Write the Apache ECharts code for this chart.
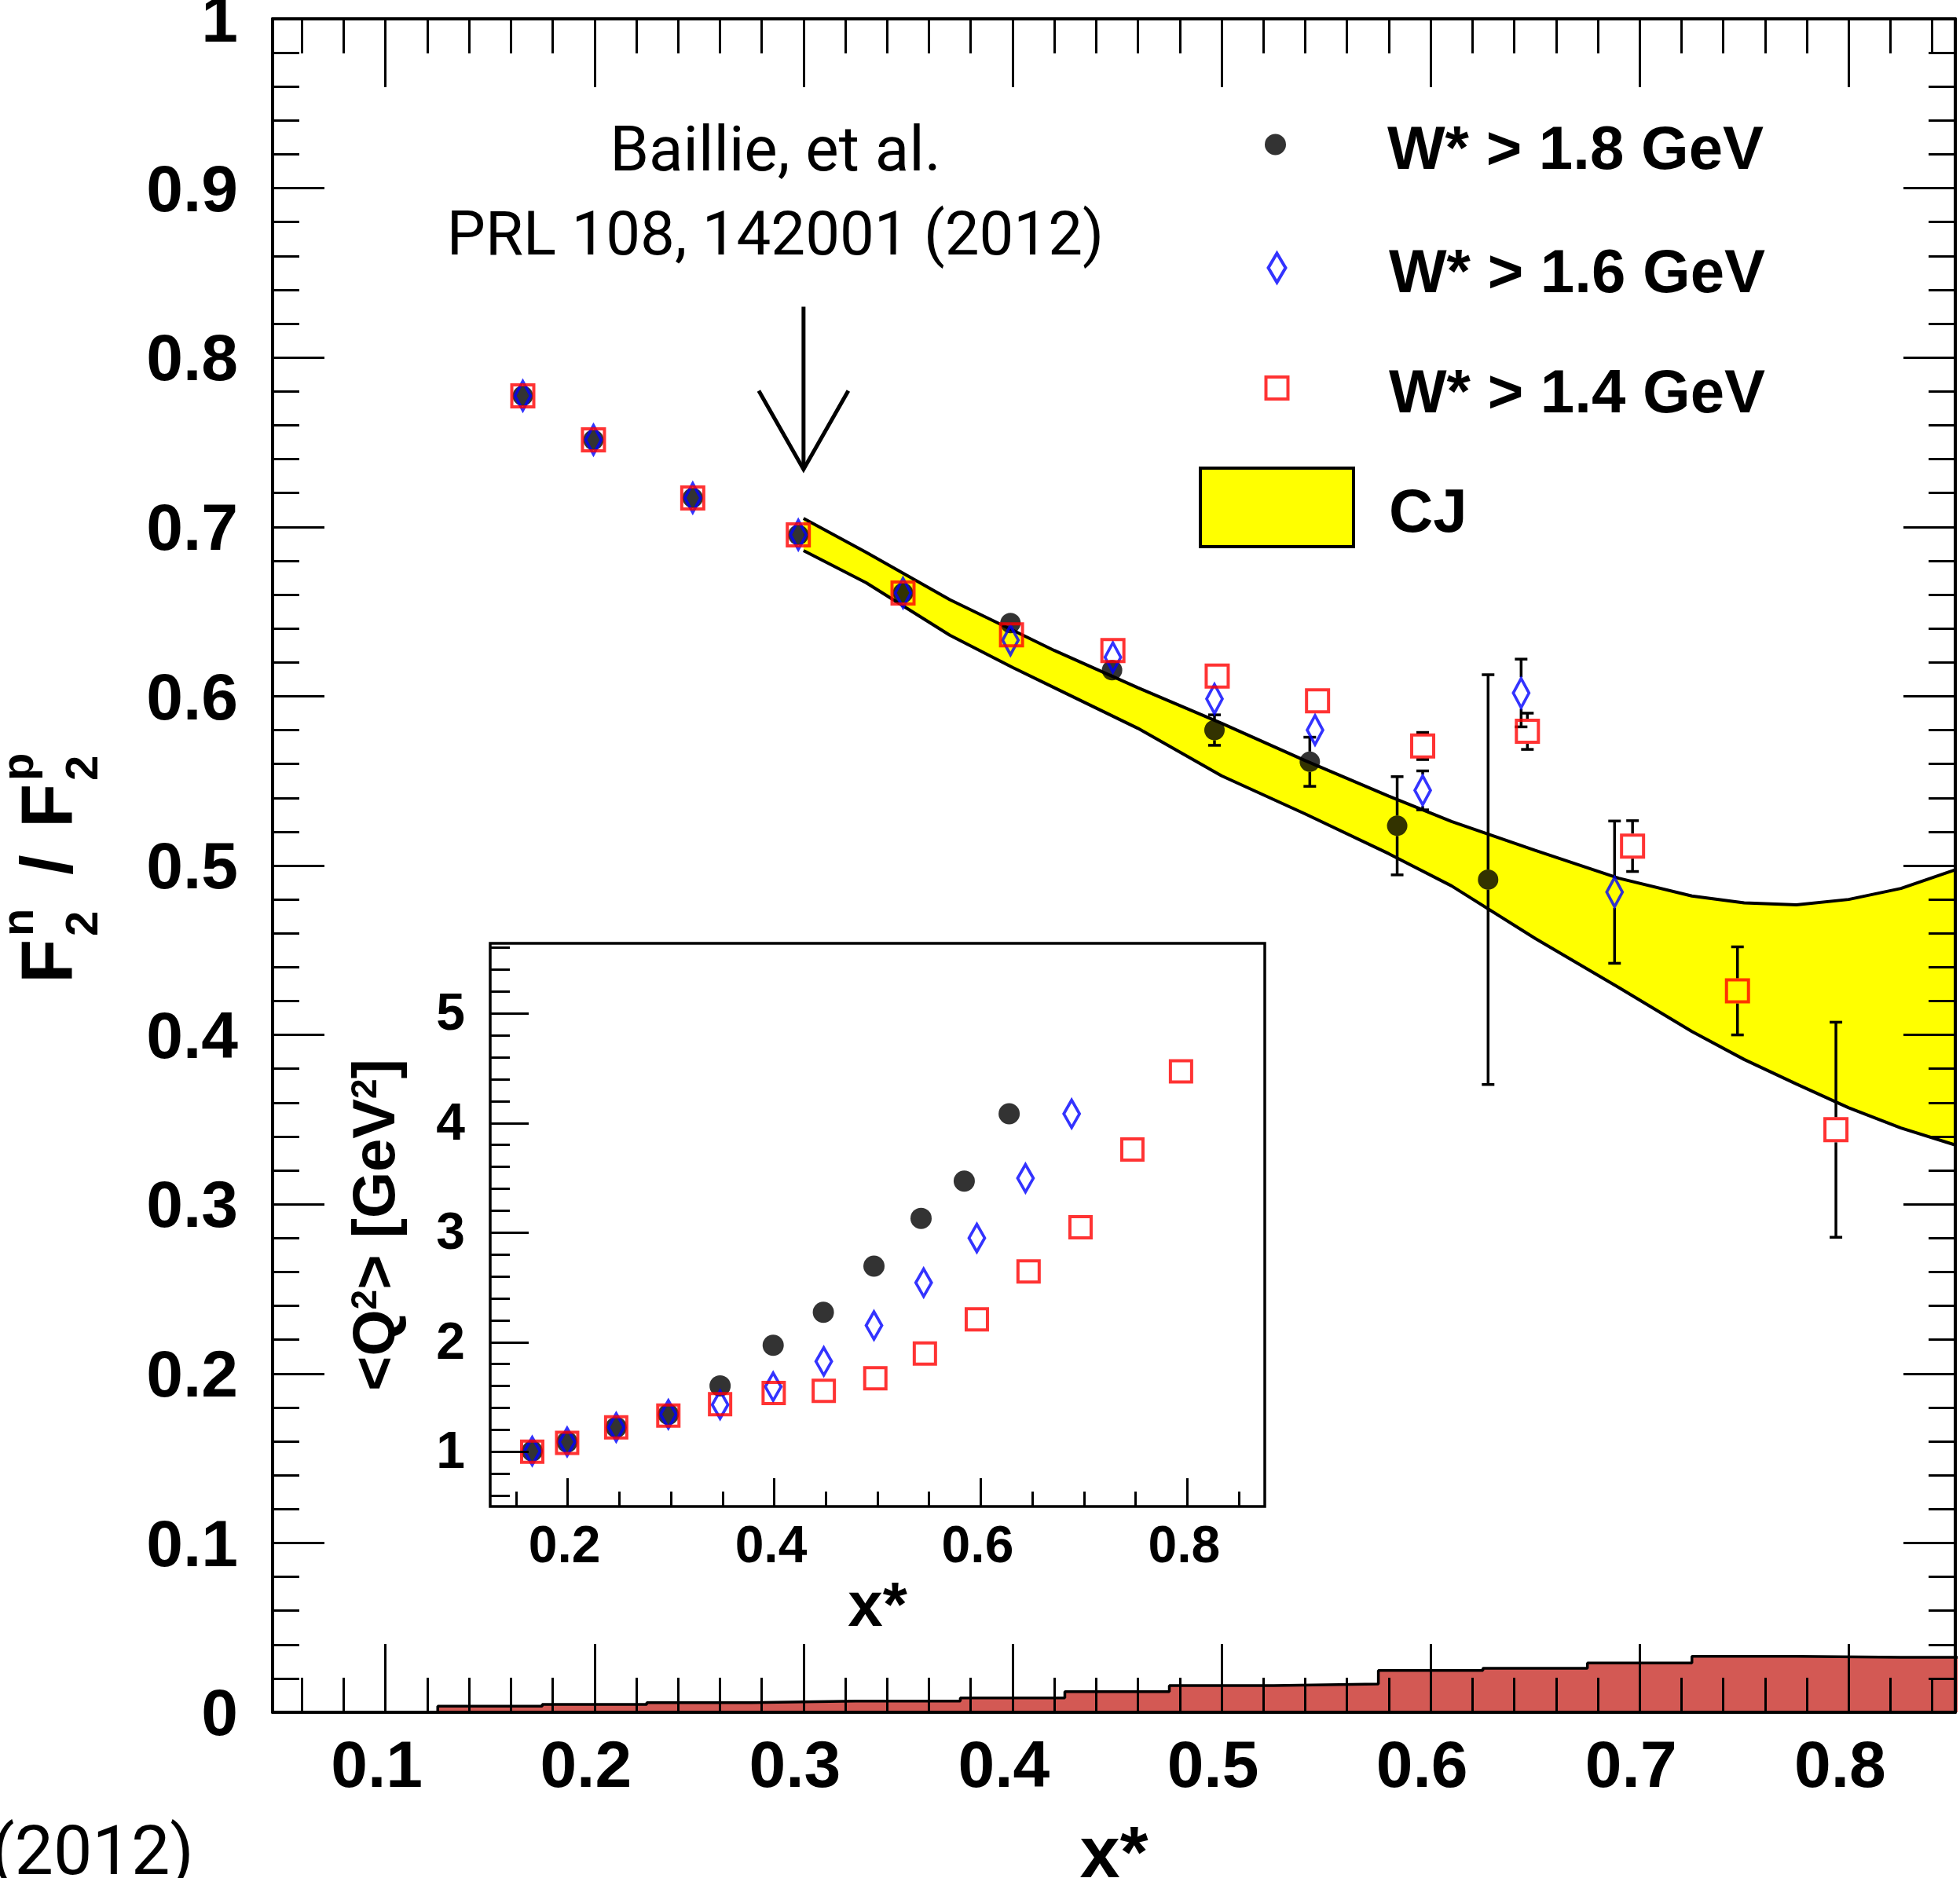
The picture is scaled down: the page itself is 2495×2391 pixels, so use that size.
<!DOCTYPE html>
<html><head><meta charset="utf-8">
<script src="https://cdn.jsdelivr.net/npm/echarts@6/dist/echarts.min.js"></script>
<style>html,body{margin:0;padding:0;background:#fff}#c{width:2495px;height:2391px}</style>
</head><body><div id="c"></div>
<script>
// ---------------- data ----------------
// W* > 1.8 GeV (black dots)
const xBlack     = [0.1657,0.1995,0.247,0.2975,0.3476,0.399,0.4476,0.4966,0.5422,0.584,0.6275];
const ratioBlack = [0.7774,0.7514,0.7171,0.6953,0.661,0.6432,0.6154,0.580,0.5613,0.5235,0.4917];
const errBlack   = [0,0,0,0,0,0,0,0.009,0.0145,0.029,0.121];
const q2Black    = [1.005,1.089,1.223,1.341,1.601,1.971,2.273,2.694,3.130,3.470,4.084];
// W* > 1.6 GeV (blue diamonds)
const xBlue      = [0.1657,0.1995,0.247,0.2975,0.3476,0.399,0.448,0.4966,0.5447,0.5962,0.6433,0.688];
const ratioBlue  = [0.7774,0.7514,0.7171,0.6953,0.661,0.6331,0.623,0.5984,0.580,0.5444,0.6019,0.4843];
const errBlue    = [0,0,0,0,0,0,0,0,0.0086,0.0115,0.02,0.042];
const q2Blue     = [1.005,1.089,1.223,1.341,1.429,1.593,1.824,2.152,2.543,2.950,3.496,4.084];
// W* > 1.4 GeV (red squares)
const xRed       = [0.1657,0.1995,0.247,0.2975,0.3476,0.3995,0.448,0.4979,0.5459,0.5962,0.6463,0.6966,0.7468,0.7939];
const ratioRed   = [0.7774,0.7514,0.7171,0.6953,0.661,0.6362,0.627,0.6119,0.5973,0.5706,0.5793,0.5115,0.426,0.344];
const errRed     = [0,0,0,0,0,0,0,0,0,0.008,0.0107,0.015,0.026,0.0635];
const q2Red      = [1.0,1.08,1.223,1.33,1.434,1.535,1.556,1.670,1.897,2.208,2.645,3.048,3.758,4.472];
// CJ band
const cjX    = [0.300,0.330,0.370,0.400,0.420,0.460,0.500,0.540,0.580,0.610,0.650,0.690,0.725,0.750,0.775,0.800,0.825,0.851];
const cjHigh = [0.705,0.685,0.657,0.639,0.627,0.605,0.584,0.562,0.541,0.526,0.509,0.4925,0.482,0.478,0.4768,0.480,0.4865,0.4975];
const cjLow  = [0.686,0.667,0.636,0.617,0.605,0.581,0.553,0.5305,0.507,0.488,0.457,0.428,0.402,0.3855,0.371,0.357,0.345,0.335];
// systematic uncertainty histogram
const sysEdges = [0.125,0.175,0.225,0.275,0.325,0.375,0.425,0.475,0.525,0.575,0.625,0.675,0.725,0.775,0.825,0.875];
const sysErr   = [0.0036,0.0046,0.0057,0.0066,0.0066,0.0085,0.0122,0.0158,0.0167,0.0247,0.026,0.0291,0.033,0.0325,0.0325];
// arrow annotation (x, top, tip)
const arrowPos = [0.3, 0.83, 0.734];
// ticks
const mainXMajor = [0.1,0.2,0.3,0.4,0.5,0.6,0.7,0.8];
const mainXMinor = [0.06,0.08,0.12,0.14,0.16,0.18,0.22,0.24,0.26,0.28,0.32,0.34,0.36,0.38,0.42,0.44,0.46,0.48,0.52,0.54,0.56,0.58,0.62,0.64,0.66,0.68,0.72,0.74,0.76,0.78,0.82,0.84];
const insetXMajor = [0.2,0.4,0.6,0.8];
const insetXMinor = [0.15,0.25,0.3,0.35,0.45,0.5,0.55,0.65,0.7,0.75,0.85];
const insetYMajor = [1,2,3,4,5];
const insetYMinor = [0.6,0.8,1.2,1.4,1.6,1.8,2.2,2.4,2.6,2.8,3.2,3.4,3.6,3.8,4.2,4.4,4.6,4.8,5.2,5.4,5.6];

// ---------------- chart ----------------
const FONT = "'Liberation Sans', Arial, Helvetica, sans-serif";
const AFONT = "Roboto, 'Open Sans', sans-serif";
const chart = echarts.init(document.getElementById('c'), null, {renderer:'canvas'});
const tickStyle = {color:'#000', width:3};
const noLine = {show:false, onZero:false};
const frameLine = {show:true, onZero:false, lineStyle:{color:'#000', width:4}};

function xa(grid, pos, min, max, vals, len, extra) {
  return Object.assign({type:'value', gridIndex:grid, position:pos, min:min, max:max, z:10,
    splitLine:{show:false}, axisLine:noLine,
    axisTick:{show:true, inside:true, length:len, lineStyle:tickStyle, customValues:vals},
    axisLabel:{show:false}}, extra || {});
}
const MX0 = 0.046, MX1 = 0.851;
const IX0 = 0.125, IX1 = 0.875, IY0 = 0.5, IY1 = 5.64;

const lblMain = {show:true, fontSize:84, fontWeight:'bold', fontFamily:FONT, color:'#000'};
const lblInset = {show:true, fontSize:66, fontWeight:'bold', fontFamily:FONT, color:'#000'};

const xAxes = [
  xa(0,'bottom',MX0,MX1,mainXMajor,87,{axisLine:frameLine,
     axisLabel:Object.assign({customValues:mainXMajor, margin:30, padding:[0,22,0,0]}, lblMain),
     name:'x*', nameLocation:'middle', nameGap:139,
     nameTextStyle:{fontSize:92, fontWeight:'bold', fontFamily:FONT, color:'#000'}}),
  xa(0,'bottom',MX0,MX1,mainXMinor,44),
  xa(0,'top',MX0,MX1,mainXMajor,87,{axisLine:frameLine}),
  xa(0,'top',MX0,MX1,mainXMinor,44),
  xa(1,'bottom',IX0,IX1,insetXMajor,36,{
     axisLabel:Object.assign({customValues:insetXMajor, margin:20, padding:[0,8,0,0]}, lblInset),
     name:'x*', nameLocation:'middle', nameGap:90,
     nameTextStyle:{fontSize:80, fontWeight:'bold', fontFamily:FONT, color:'#000'}}),
  xa(1,'bottom',IX0,IX1,insetXMinor,19)
];
const yAxes = [
  {type:'value', gridIndex:0, position:'left', min:0, max:1, interval:0.1, z:10,
   splitLine:{show:false}, axisLine:frameLine,
   axisTick:{show:true, inside:true, length:66, lineStyle:tickStyle},
   minorTick:{show:true, splitNumber:5, length:34, lineStyle:tickStyle},
   axisLabel:Object.assign({margin:44, verticalAlign:'top', lineHeight:12}, lblMain)},
  {type:'value', gridIndex:0, position:'right', min:0, max:1, interval:0.1, z:10,
   splitLine:{show:false}, axisLine:frameLine,
   axisTick:{show:true, inside:true, length:66, lineStyle:tickStyle},
   minorTick:{show:true, splitNumber:5, length:34, lineStyle:tickStyle},
   axisLabel:{show:false}},
  {type:'value', gridIndex:1, position:'left', min:IY0, max:IY1, z:10,
   splitLine:{show:false}, axisLine:noLine,
   axisTick:{show:true, inside:true, length:49, lineStyle:tickStyle, customValues:insetYMajor},
   axisLabel:Object.assign({customValues:insetYMajor, margin:32, verticalAlign:'top', lineHeight:6}, lblInset),
   name:'<Q{s|2}> [GeV{s|2}]', nameLocation:'middle', nameGap:105,
   nameTextStyle:{fontSize:76, fontWeight:'bold', fontFamily:FONT, color:'#000',
     rich:{s:{fontSize:46, fontWeight:'bold', fontFamily:FONT, color:'#000', verticalAlign:'top'}}}},
  {type:'value', gridIndex:1, position:'left', min:IY0, max:IY1, z:10,
   splitLine:{show:false}, axisLine:noLine,
   axisTick:{show:true, inside:true, length:25, lineStyle:tickStyle, customValues:insetYMinor},
   axisLabel:{show:false}}
];

const NAMES = ['W* > 1.8 GeV','W* > 1.6 GeV','W* > 1.4 GeV','CJ'];
const blackStyle = {color:'#000000'};
const blueStyle = {color:'rgba(0,0,0,0)', borderColor:'#0000ff', borderWidth:4};
const redStyle = {color:'rgba(0,0,0,0)', borderColor:'#ff0000', borderWidth:4};

function zip(a,b){ return a.map((v,i)=>[v,b[i]]); }
function zip3(a,b,c){ const out=[]; a.forEach((v,i)=>{ if(c[i]>0) out.push([v,b[i],c[i]]); }); return out; }

function errSeries(name, xs, ys, es, gap, z) {
  return {type:'custom', name:name, xAxisIndex:0, yAxisIndex:0, z:z, silent:true, clip:true,
    encode:{x:0, y:1}, data: zip3(xs, ys, es),
    renderItem:function(params, api){
      const x = api.value(0), y = api.value(1), e = api.value(2);
      const c = api.coord([x,y]), t = api.coord([x,y+e]), b = api.coord([x,y-e]);
      const st = {stroke:'#000', lineWidth:3.5};
      const ch = [];
      if (c[1]-t[1] > gap) {
        ch.push({type:'line', shape:{x1:c[0],y1:c[1]-gap,x2:c[0],y2:t[1]}, style:st});
        ch.push({type:'line', shape:{x1:c[0]-8,y1:t[1],x2:c[0]+8,y2:t[1]}, style:st});
      }
      if (b[1]-c[1] > gap) {
        ch.push({type:'line', shape:{x1:c[0],y1:c[1]+gap,x2:c[0],y2:b[1]}, style:st});
        ch.push({type:'line', shape:{x1:c[0]-8,y1:b[1],x2:c[0]+8,y2:b[1]}, style:st});
      }
      return {type:'group', children:ch};
    }};
}

// histogram step data built from bin edges and heights
const sysData = [[sysEdges[0],0]];
sysErr.forEach((h,i)=>sysData.push([sysEdges[i],h]));
sysData.push([sysEdges[sysEdges.length-1], sysErr[sysErr.length-1]]);

const series = [
  {type:'line', name:'sys', xAxisIndex:0, yAxisIndex:0, step:'end', symbol:'none', silent:true,
   data:sysData, lineStyle:{color:'#000', width:3.5}, areaStyle:{color:'#d35954', opacity:1}, z:1},
  {type:'custom', name:'CJ', xAxisIndex:0, yAxisIndex:0, z:2, silent:true, clip:true,
   itemStyle:{color:'#ffff00'}, encode:{x:0, y:[1,2]},
   data: cjX.map((x,i)=>[x,cjLow[i],cjHigh[i]]),
   renderItem:function(params, api){
     if (params.dataIndex !== 0) return null;
     const pts = [];
     for (let i=0;i<cjX.length;i++) pts.push(api.coord([cjX[i], cjHigh[i]]));
     for (let i=cjX.length-1;i>=0;i--) pts.push(api.coord([cjX[i], cjLow[i]]));
     return {type:'polygon', shape:{points:pts}, style:{fill:'#ffff00', stroke:null}};
   }},
  {type:'line', name:'cj-high', xAxisIndex:0, yAxisIndex:0, symbol:'none', silent:true, z:3,
   data:zip(cjX,cjHigh), lineStyle:{color:'#000', width:4}},
  {type:'line', name:'cj-low', xAxisIndex:0, yAxisIndex:0, symbol:'none', silent:true, z:3,
   data:zip(cjX,cjLow), lineStyle:{color:'#000', width:4}},
  errSeries('err18', xBlack, ratioBlack, errBlack, 13, 4),
  errSeries('err16', xBlue, ratioBlue, errBlue, 20, 4),
  errSeries('err14', xRed, ratioRed, errRed, 16, 4),
  {type:'scatter', name:NAMES[0], xAxisIndex:0, yAxisIndex:0, symbol:'circle', symbolSize:26,
   itemStyle:blackStyle, data:zip(xBlack,ratioBlack), z:5, silent:true},
  {type:'scatter', name:NAMES[1], xAxisIndex:0, yAxisIndex:0, symbol:'diamond', symbolSize:[20,37],
   itemStyle:blueStyle, data:zip(xBlue,ratioBlue), z:6, silent:true},
  {type:'scatter', name:NAMES[2], xAxisIndex:0, yAxisIndex:0, symbol:'rect', symbolSize:28,
   itemStyle:redStyle, data:zip(xRed,ratioRed), z:7, silent:true},
  {type:'custom', name:'arrow', xAxisIndex:0, yAxisIndex:0, z:8, silent:true, encode:{x:0,y:[1,2]},
   data:[arrowPos],
   renderItem:function(params, api){
     const top = api.coord([api.value(0), api.value(1)]);
     const tip = api.coord([api.value(0), api.value(2)]);
     const st = {stroke:'#000', lineWidth:5};
     return {type:'group', children:[
       {type:'line', shape:{x1:top[0],y1:top[1],x2:tip[0],y2:tip[1]}, style:st},
       {type:'polyline', shape:{points:[[tip[0]-57,tip[1]-100],[tip[0],tip[1]],[tip[0]+57,tip[1]-100]]}, style:Object.assign({fill:null},st)}
     ]};
   }},
  // inset
  {type:'scatter', name:NAMES[0], xAxisIndex:4, yAxisIndex:2, symbol:'circle', symbolSize:27,
   itemStyle:blackStyle, data:zip(xBlack,q2Black), z:5, silent:true},
  {type:'scatter', name:NAMES[1], xAxisIndex:4, yAxisIndex:2, symbol:'diamond', symbolSize:[20,35],
   itemStyle:blueStyle, data:zip(xBlue,q2Blue), z:6, silent:true},
  {type:'scatter', name:NAMES[2], xAxisIndex:4, yAxisIndex:2, symbol:'rect', symbolSize:27,
   itemStyle:redStyle, data:zip(xRed,q2Red), z:7, silent:true}
];

// legend icons: each icon path spans the full 199x104 item box (leading moveTo's), marker centred in it
const legendCommon = {orient:'vertical', padding:0, selectedMode:false, itemGap:0, z:20,
  left:1524, itemWidth:199, itemHeight:104, formatter:'{a|{name}}',
  textStyle:{fontSize:78, fontWeight:'bold', fontFamily:FONT, color:'#000',
    rich:{a:{fontSize:78, fontWeight:'bold', fontFamily:FONT, color:'#000', padding:[18,0,0,38]}}}};
const legends = [
  Object.assign({top:132,
    data:[{name:NAMES[0], icon:'path://M0,0M199,104M86,52a13.5,13.5 0 1,0 27,0a13.5,13.5 0 1,0 -27,0Z', itemStyle:{color:'#000', borderWidth:0}}]}, legendCommon),
  Object.assign({top:287,
    data:[{name:NAMES[1], icon:'path://M0,0M199,104M99.5,33.5L110.5,52L99.5,70.5L88.5,52Z', itemStyle:blueStyle}]}, legendCommon),
  Object.assign({top:440,
    data:[{name:NAMES[2], icon:'path://M0,0M199,104M85.5,38L113.5,38L113.5,66L85.5,66Z', itemStyle:redStyle}]}, legendCommon),
  Object.assign({top:592,
    data:[{name:NAMES[3], icon:'path://M0,0M199,104M2,2L197,2L197,102L2,102Z', itemStyle:{color:'#ffff00', borderColor:'#000', borderWidth:4}}]}, legendCommon)
];

// y-axis title F2n / F2p (rotated, built from text pieces)
const big = {fontSize:92, fontWeight:'bold', fontFamily:FONT, fill:'#000', verticalAlign:'middle', align:'left'};
const sml = {fontSize:58, fontWeight:'bold', fontFamily:FONT, fill:'#000', verticalAlign:'middle', align:'left'};
function t(txt, x, y, st){ return {type:'text', x:x, y:y, style:Object.assign({text:txt}, st)}; }

const graphic = [
  {type:'group', x:66, y:1252, rotation:Math.PI/2, z:20, children:[
    t('F',0,0,big), t('2',60,42,sml), t('n',60,-40,sml),
    t('/',138,0,big),
    t('F',198,0,big), t('2',258,42,sml), t('p',258,-40,sml)
  ]},
  {type:'text', x:987, y:197, z:20, style:{text:'Baillie, et al.', fontSize:80, fontWeight:'normal', fontFamily:AFONT, fill:'#000', align:'center', verticalAlign:'middle'}},
  {type:'text', x:987, y:304, z:20, style:{text:'PRL 108, 142001 (2012)', fontSize:78, fontWeight:'normal', fontFamily:AFONT, fill:'#000', align:'center', verticalAlign:'middle'}},
  {type:'text', x:247, y:2364, z:20, style:{text:'(2012)', fontSize:88, fontWeight:'normal', fontFamily:AFONT, fill:'#000', align:'right', verticalAlign:'middle'}}
];

chart.setOption({
  animation:false,
  backgroundColor:'#fff',
  grid:[
    {left:347, top:24, width:2142, height:2156, show:false, containLabel:false, outerBoundsMode:'none'},
    {left:624, top:1201, width:986, height:717, show:true, borderColor:'#000', borderWidth:3.5, backgroundColor:'#fff', containLabel:false, outerBoundsMode:'none'}
  ],
  xAxis:xAxes, yAxis:yAxes, legend:legends, series:series, graphic:graphic
});
</script></body></html>
